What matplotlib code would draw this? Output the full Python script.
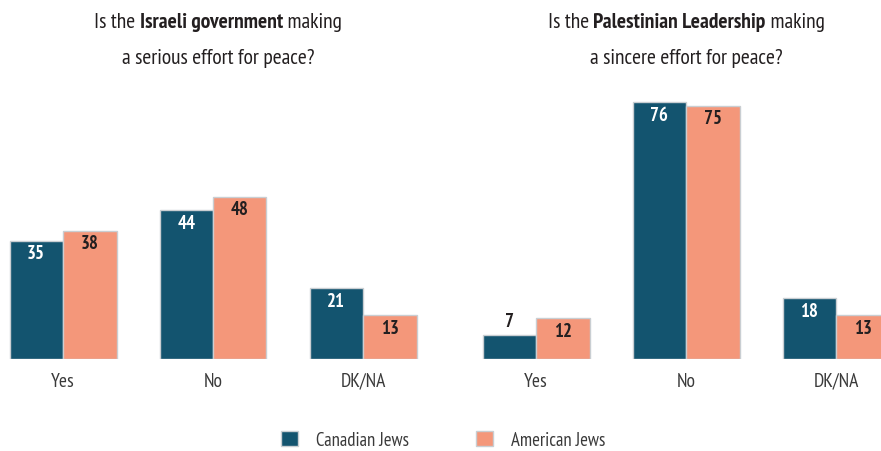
import matplotlib.pyplot as plt
from matplotlib.patches import Patch

categories = ['Yes', 'No', 'DK/NA']
series = ['Canadian Jews', 'American Jews']
israeli_canadian = [35, 44, 21]
israeli_american = [38, 48, 13]
palest_canadian = [7, 76, 18]
palest_american = [12, 75, 13]

dark = '#13546F'
salmon = '#F4977A'
edge = '#C9CED2'
txt = '#231F20'
plt.rcParams['font.family'] = ['PT Sans Narrow', 'DejaVu Sans']
plt.rcParams['font.stretch'] = 'condensed'

W, H = 881, 452
fig = plt.figure(figsize=(W / 100, H / 100), dpi=100)

ppu = 3.38      # pixels per percent
base = 360      # baseline from top, px
bw = 53.5 / 150


def make_axes(x0, x1, c0):
    ax = fig.add_axes([x0 / W, (H - base) / H, (x1 - x0) / W, base / H])
    ax.set_xlim((x0 - c0) / 150, (x1 - c0) / 150)
    ax.set_ylim(0, base / ppu)
    ax.axis('off')
    return ax


def panel(ax, can, ame):
    xs = range(len(categories))
    b1 = ax.bar([x - bw / 2 for x in xs], can, bw, color=dark, edgecolor=edge, linewidth=1)
    b2 = ax.bar([x + bw / 2 for x in xs], ame, bw, color=salmon, edgecolor=edge, linewidth=1)
    for bars, vals, col in [(b1, can, 'white'), (b2, ame, txt)]:
        for b, v in zip(bars, vals):
            cx = b.get_x() + b.get_width() / 2
            if v < 10:
                ax.annotate(str(v), (cx, v), xytext=(0, 10.5), textcoords='offset points',
                            ha='center', va='center', fontsize=13.5, fontweight='bold', color=txt)
            else:
                ax.annotate(str(v), (cx, v), xytext=(0, -9), textcoords='offset points',
                            ha='center', va='center', fontsize=13.5, fontweight='bold', color=col)
    for x, c in zip(xs, categories):
        ax.annotate(c, (x, 0), xytext=(0, -15.5), textcoords='offset points',
                    ha='center', va='center', fontsize=14, color='#3A3A3A', annotation_clip=False)


def title(cx, parts, y):
    r = fig.canvas.get_renderer()
    items = []
    total = 0
    for s, w in parts:
        t = fig.text(0, 1 - y / H, s, fontsize=15.5, fontweight=w, color=txt, va='center', ha='left')
        bb = t.get_window_extent(renderer=r)
        items.append((t, bb.width))
        total += bb.width
    x = cx - total / 2
    for t, w in items:
        t.set_x(x / W)
        x += w


ax1 = make_axes(0, 440, 63)
ax2 = make_axes(440, 881, 536)
panel(ax1, israeli_canadian, israeli_american)
panel(ax2, palest_canadian, palest_american)

title(218, [('Is the ', 'normal'), ('Israeli government', 'bold'), (' making', 'normal')], 22)
title(218, [('a serious effort for peace?', 'normal')], 58)
title(686, [('Is the ', 'normal'), ('Palestinian Leadership', 'bold'), (' making', 'normal')], 22)
title(686, [('a sincere effort for peace?', 'normal')], 58)

handles = [Patch(facecolor=dark, edgecolor=edge), Patch(facecolor=salmon, edgecolor=edge)]
fig.legend(handles, series, loc='center', bbox_to_anchor=(443 / W, 1 - 441 / H), ncol=2,
           frameon=False, fontsize=13.5, handlelength=0.9, handleheight=0.9,
           handletextpad=0.95, columnspacing=3.6, labelcolor='#3A3A3A')

fig.savefig('out.png', dpi=100)
